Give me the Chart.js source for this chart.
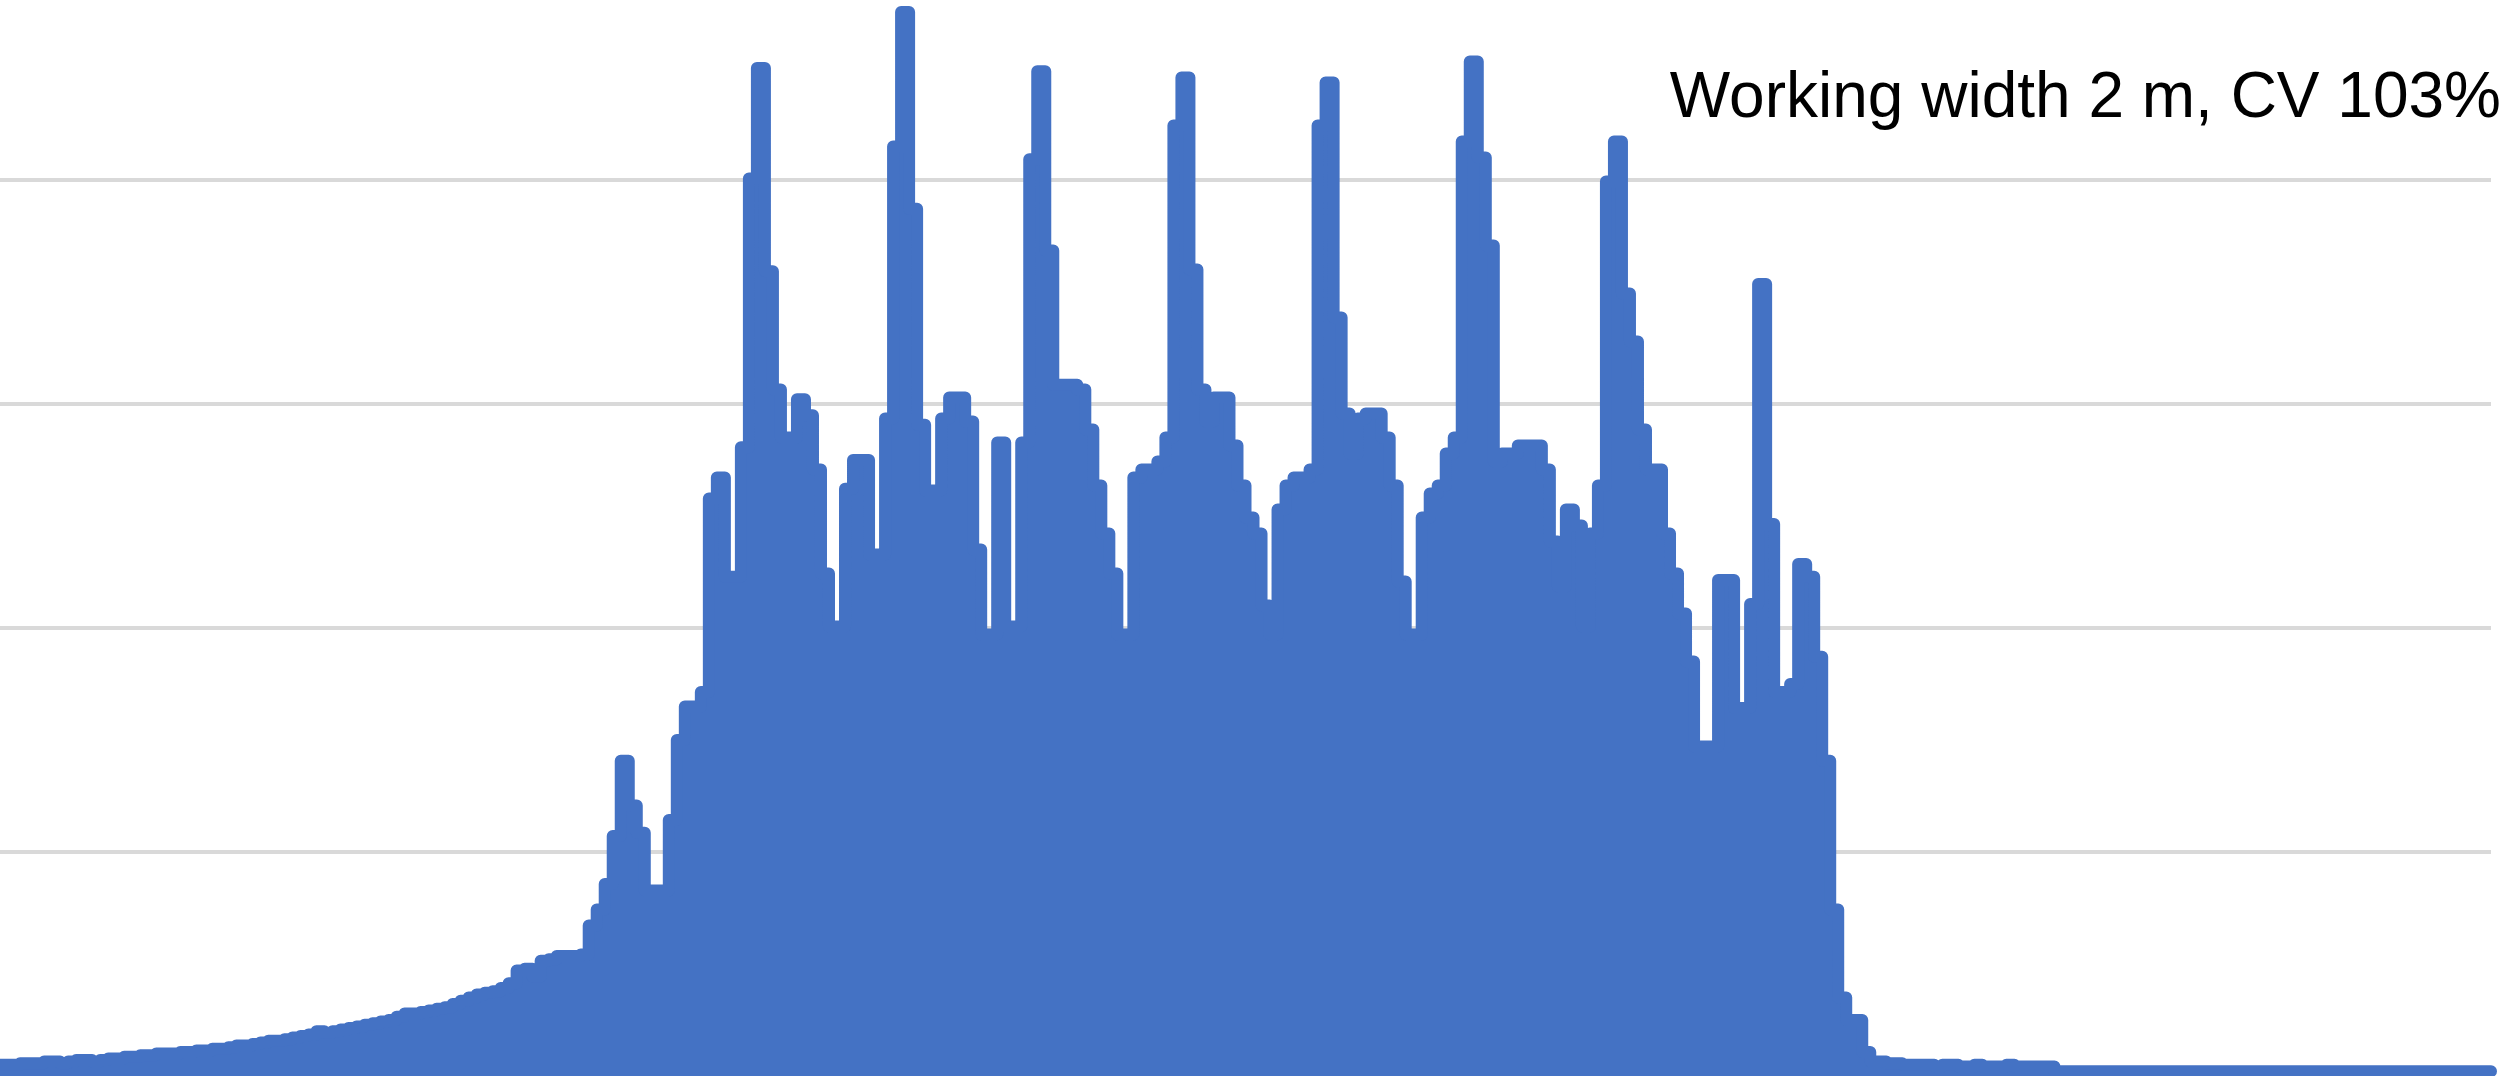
<!DOCTYPE html>
<html>
<head>
<meta charset="utf-8">
<title>Spread pattern</title>
<script src="https://cdn.jsdelivr.net/npm/chart.js@4/dist/chart.umd.min.js"></script>
<style>
  html, body { margin: 0; padding: 0; background: #ffffff; }
  #wrap { position: relative; width: 2509px; height: 1079px; }
</style>
</head>
<body>
<div id="wrap"><canvas id="spreadChart"></canvas></div>
<script>
// Amount collected in each tray across the bout (relative units, one value per tray)
const spread = [
  7, 7, 7, 8, 8, 8, 9, 9, 8, 9,
  10, 10, 9, 10, 11, 11, 12, 12, 13, 13,
  14, 14, 14, 15, 15, 16, 16, 17, 17, 18,
  19, 19, 20, 21, 22, 22, 23, 24, 25, 26,
  28, 27, 28, 29, 30, 31, 32, 33, 34, 35,
  37, 39, 39, 40, 41, 42, 43, 45, 47, 49,
  51, 52, 53, 55, 58, 66, 67, 62, 72, 73,
  75, 75, 75, 76, 94, 104, 120, 150, 197, 169,
  152, 116, 116, 116, 160, 210, 231, 231, 240, 361,
  374, 312, 312, 393, 561, 630, 503, 429, 399, 399,
  423, 413, 379, 314, 281, 281, 367, 385, 385, 326,
  326, 411, 581, 665, 542, 407, 366, 366, 411, 424,
  424, 409, 329, 276, 276, 396, 281, 281, 396, 573,
  628, 516, 432, 432, 432, 429, 404, 369, 339, 314,
  276, 276, 374, 379, 379, 384, 399, 594, 624, 504,
  429, 409, 424, 424, 394, 369, 349, 339, 294, 276,
  354, 369, 374, 374, 379, 594, 621, 474, 414, 389,
  411, 414, 414, 399, 369, 309, 276, 276, 349, 364,
  369, 389, 399, 584, 634, 574, 519, 384, 389, 389,
  394, 394, 394, 379, 334, 306, 354, 344, 281, 339,
  369, 559, 584, 489, 459, 404, 379, 379, 339, 314,
  289, 259, 206, 206, 206, 310, 310, 230, 230, 295,
  495, 345, 240, 240, 245, 320, 312, 262, 197, 104,
  49, 35, 35, 15, 9, 9, 8, 8, 7, 7,
  7, 7, 6, 7, 7, 6, 6, 7, 6, 6,
  6, 7, 6, 6, 6, 6, 6, 3, 3, 3,
  3, 3, 3, 3, 3, 3, 3, 3, 3, 3,
  3, 3, 3, 3, 3, 3, 3, 3, 3, 3,
  3, 3, 3, 3, 3, 3, 3, 3, 3, 3,
  3, 3, 3, 3, 3, 3, 3, 3, 3, 3,
  3, 3, 3, 3, 3, 3, 3, 3, 3, 3,
  3, 3
];

// Tray numbers along the bout
const trays = spread.map((_, i) => String(i + 1));

// Horizontal reference lines and the top of the value axis
const gridValues = [140, 280, 420, 560];
const axisMax = 672.5;

const caption = 'Working width 2 m, CV 103%';
const barBlue = '#4472c4';

// Caption in the upper right corner of the plot
const captionPlugin = {
  id: 'caption',
  afterDraw(chart) {
    const ctx = chart.ctx;
    ctx.save();
    ctx.font = '64px "Liberation Sans", Arial, sans-serif';
    ctx.fillStyle = '#000000';
    ctx.textAlign = 'right';
    ctx.textBaseline = 'alphabetic';
    ctx.fillText(caption, 2501, 117);
    ctx.restore();
  }
};

new Chart(document.getElementById('spreadChart'), {
  type: 'line',
  data: {
    labels: trays,
    datasets: [{
      data: spread,
      stepped: 'middle',
      fill: 'origin',
      backgroundColor: barBlue,
      borderColor: barBlue,
      borderWidth: 12,
      borderJoinStyle: 'round',
      borderCapStyle: 'round',
      pointRadius: 0,
      pointHoverRadius: 0
    }]
  },
  options: {
    responsive: true,
    maintainAspectRatio: false,
    animation: false,
    events: [],
    layout: { padding: { left: 0, right: 18, top: 0, bottom: 3 } },
    plugins: {
      legend: { display: false },
      tooltip: { enabled: false },
      title: { display: false }
    },
    scales: {
      x: {
        type: 'category',
        display: false,
        offset: false
      },
      y: {
        min: 0,
        max: axisMax,
        border: { display: false },
        ticks: { display: false },
        grid: { color: '#d9d9d9', lineWidth: 4, drawTicks: false },
        afterBuildTicks(scale) {
          scale.ticks = gridValues.map(v => ({ value: v }));
        }
      }
    }
  },
  plugins: [captionPlugin]
});
</script>
</body>
</html>
